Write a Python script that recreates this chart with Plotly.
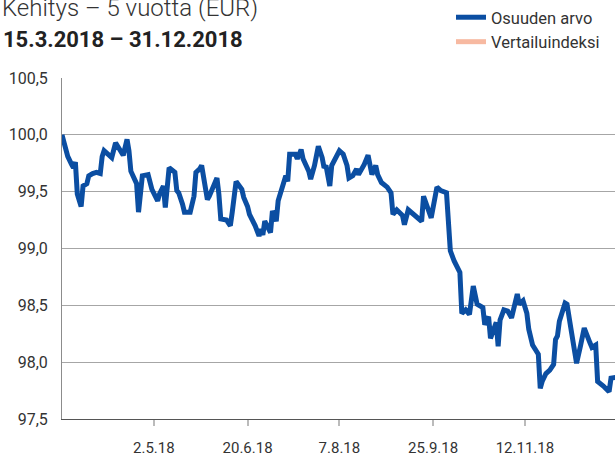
import plotly.graph_objects as go

# Fund value path, 15.3.2018 - 31.12.2018
dates = [
    "2018-03-15", "2018-03-18", "2018-03-20", "2018-03-21", "2018-03-22", "2018-03-23",
    "2018-03-25", "2018-03-26", "2018-03-28", "2018-03-29", "2018-03-31", "2018-04-02",
    "2018-04-04", "2018-04-05", "2018-04-06", "2018-04-08", "2018-04-10", "2018-04-12",
    "2018-04-13", "2018-04-15", "2018-04-16", "2018-04-18", "2018-04-19", "2018-04-20",
    "2018-04-22", "2018-04-23", "2018-04-24", "2018-04-26", "2018-04-29", "2018-05-01",
    "2018-05-04", "2018-05-05", "2018-05-07", "2018-05-08", "2018-05-10", "2018-05-13",
    "2018-05-14", "2018-05-15", "2018-05-17", "2018-05-18", "2018-05-21", "2018-05-22",
    "2018-05-23", "2018-05-24", "2018-05-26", "2018-05-27", "2018-05-29", "2018-05-30",
    "2018-05-31", "2018-06-02", "2018-06-04", "2018-06-05", "2018-06-06", "2018-06-09",
    "2018-06-11", "2018-06-12", "2018-06-14", "2018-06-17", "2018-06-18", "2018-06-20",
    "2018-06-21", "2018-06-24", "2018-06-26", "2018-06-27", "2018-06-28", "2018-06-29",
    "2018-06-30", "2018-07-02", "2018-07-03", "2018-07-05", "2018-07-06", "2018-07-08",
    "2018-07-10", "2018-07-11", "2018-07-12", "2018-07-15", "2018-07-16", "2018-07-18",
    "2018-07-19", "2018-07-22", "2018-07-23", "2018-07-25", "2018-07-27", "2018-07-29",
    "2018-07-30", "2018-07-31", "2018-08-02", "2018-08-03", "2018-08-06", "2018-08-07",
    "2018-08-09", "2018-08-11", "2018-08-12", "2018-08-14", "2018-08-16", "2018-08-17",
    "2018-08-20", "2018-08-22", "2018-08-24", "2018-08-26", "2018-08-27", "2018-08-29",
    "2018-09-01", "2018-09-03", "2018-09-04", "2018-09-06", "2018-09-09", "2018-09-10",
    "2018-09-12", "2018-09-15", "2018-09-17", "2018-09-19", "2018-09-20", "2018-09-22",
    "2018-09-24", "2018-09-27", "2018-09-29", "2018-10-02", "2018-10-03", "2018-10-04",
    "2018-10-06", "2018-10-09", "2018-10-10", "2018-10-12", "2018-10-14", "2018-10-16",
    "2018-10-18", "2018-10-21", "2018-10-22", "2018-10-24", "2018-10-25", "2018-10-27",
    "2018-10-28", "2018-10-29", "2018-10-30", "2018-11-01", "2018-11-03", "2018-11-05",
    "2018-11-06", "2018-11-08", "2018-11-09", "2018-11-11", "2018-11-13", "2018-11-14",
    "2018-11-16", "2018-11-18", "2018-11-19", "2018-11-20", "2018-11-21", "2018-11-23",
    "2018-11-25", "2018-11-27", "2018-11-28", "2018-11-29", "2018-11-30", "2018-12-03",
    "2018-12-04", "2018-12-06", "2018-12-08", "2018-12-09", "2018-12-11", "2018-12-13",
    "2018-12-16", "2018-12-17", "2018-12-19", "2018-12-20", "2018-12-23", "2018-12-26",
    "2018-12-27", "2018-12-29", "2018-12-31",
]

fund_values = [
    100.00, 99.81, 99.74, 99.71, 99.76, 99.48,
    99.37, 99.55, 99.57, 99.64, 99.66, 99.67,
    99.66, 99.81, 99.86, 99.83, 99.80, 99.93,
    99.90, 99.84, 99.82, 99.96, 99.86, 99.68,
    99.61, 99.57, 99.32, 99.64, 99.65, 99.52,
    99.42, 99.48, 99.55, 99.36, 99.71, 99.67,
    99.51, 99.49, 99.39, 99.32, 99.32, 99.42,
    99.46, 99.67, 99.70, 99.73, 99.54, 99.43,
    99.46, 99.54, 99.62, 99.48, 99.26, 99.25,
    99.20, 99.32, 99.59, 99.52, 99.45, 99.37,
    99.30, 99.20, 99.11, 99.17, 99.12, 99.24,
    99.21, 99.14, 99.33, 99.24, 99.42, 99.52,
    99.64, 99.59, 99.83, 99.83, 99.79, 99.87,
    99.79, 99.68, 99.61, 99.73, 99.90, 99.80,
    99.71, 99.73, 99.55, 99.73, 99.84, 99.86,
    99.83, 99.73, 99.62, 99.64, 99.70, 99.65,
    99.74, 99.82, 99.65, 99.73, 99.65, 99.58,
    99.54, 99.49, 99.30, 99.34, 99.29, 99.21,
    99.34, 99.30, 99.28, 99.24, 99.46, 99.37,
    99.27, 99.54, 99.51, 99.49, 99.26, 98.98,
    98.89, 98.79, 98.43, 98.46, 98.42, 98.67,
    98.51, 98.48, 98.33, 98.40, 98.21, 98.29,
    98.35, 98.14, 98.37, 98.46, 98.45, 98.39,
    98.46, 98.60, 98.51, 98.54, 98.43, 98.29,
    98.15, 98.10, 98.07, 97.77, 97.83, 97.90,
    97.93, 97.98, 98.20, 98.23, 98.36, 98.52,
    98.51, 98.30, 98.10, 97.99, 98.14, 98.30,
    98.17, 98.13, 98.15, 97.83, 97.79, 97.74,
    97.86, 97.87, 97.87,
]

# Benchmark has no published values for this period
benchmark_dates = [None]
benchmark_values = [None]

x_tick_dates = ["2018-05-02", "2018-06-20", "2018-08-07", "2018-09-25", "2018-11-12"]
x_tick_labels = ["2.5.18", "20.6.18", "7.8.18", "25.9.18", "12.11.18"]
y_ticks = [97.5, 98.0, 98.5, 99.0, 99.5, 100.0, 100.5]

FONT = "Roboto"
BLUE = "#0b4ea2"
SALMON = "#f7b9a1"

fig = go.Figure()
fig.add_trace(go.Scatter(
    x=dates, y=fund_values, mode="lines", name="Osuuden arvo",
    line=dict(color=BLUE, width=5), legendgroup="a",
))
fig.add_trace(go.Scatter(
    x=benchmark_dates, y=benchmark_values, mode="lines", name="Vertailuindeksi",
    line=dict(color=SALMON, width=5), legendgroup="b",
))

W, H = 615, 457
ML, MR, MT, MB = 62, 0, 78, 38
plot_w = W - ML - MR
plot_h = H - MT - MB


def px_x(px):
    return (px - ML) / plot_w


def px_y(py):
    return (H - MB - py) / plot_h


fig.update_layout(
    width=W, height=H,
    margin=dict(l=ML, r=MR, t=MT, b=MB, pad=0, autoexpand=False),
    paper_bgcolor="white", plot_bgcolor="white",
    separators=",.",
    font=dict(family=FONT, color="#333333", size=15),
    showlegend=True,
    legend=dict(
        xref="container", yref="container",
        x=451 / W, y=1.003, xanchor="left", yanchor="top",
        font=dict(family=FONT, size=16.5, color="#333333"),
        bgcolor="rgba(0,0,0,0)", tracegroupgap=0, itemwidth=30,
    ),
    xaxis=dict(
        type="date",
        range=["2018-03-15", "2018-12-29 02:00"],
        tickvals=x_tick_dates, ticktext=x_tick_labels,
        ticks="outside", ticklen=6, tickwidth=1.5, tickcolor="#bbbbbb",
        showgrid=False, zeroline=False,
        showline=True, linecolor="#555555", linewidth=1,
        tickfont=dict(family=FONT, size=15, color="#333333"),
        ticklabelstandoff=9,
    ),
    yaxis=dict(
        range=[97.5, 100.5],
        tickvals=y_ticks, tickformat=".1f",
        showgrid=True, gridcolor="#a6a6a6", gridwidth=1.2,
        zeroline=False, ticks="",
        showline=True, linecolor="#8c8c8c", linewidth=1,
        tickfont=dict(family=FONT, size=16, color="#333333"),
        ticklabelstandoff=10,
    ),
    annotations=[
        dict(text="Kehitys – 5 vuotta (EUR)", xref="paper", yref="paper",
             x=px_x(0), y=px_y(8), xanchor="left", yanchor="middle",
             showarrow=False,
             font=dict(family=FONT, size=24, weight=300, color="#333333")),
        dict(text="15.3.2018 – 31.12.2018", xref="paper", yref="paper",
             x=px_x(1), y=px_y(39.5), xanchor="left", yanchor="middle",
             showarrow=False,
             font=dict(family=FONT, size=22, weight=700, color="#222222")),
    ],
)

fig.write_html("out.html")
